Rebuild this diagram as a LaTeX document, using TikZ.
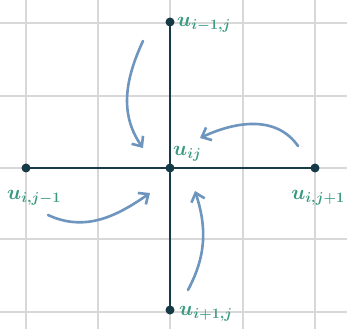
\documentclass[tikz,border=0pt]{standalone}
\usetikzlibrary{arrows.meta}
\definecolor{gridc}{HTML}{D8D8D8}
\definecolor{axisc}{HTML}{173A47}
\definecolor{labc}{HTML}{3A9A80}
\definecolor{arrc}{HTML}{6D95BE}
\tikzset{
  gridline/.style={gridc, line width=1.2pt},
  axis/.style={axisc, line width=2.8pt},
  dotnode/.style={circle, fill=axisc, inner sep=0pt, minimum size=9pt},
  lab/.style={text=labc, inner sep=1pt, font=\huge\boldmath},
  flow/.style={arrc, line width=2.6pt, line cap=round, -{Straight Barb[length=8pt,width=14pt,line width=2.6pt]}}
}
\begin{document}
\begin{tikzpicture}[x=1pt,y=1pt]
\useasboundingbox (0,0) rectangle (347,329);
% grid
\foreach \gx in {26,98,170,243,315} \draw[gridline] (\gx,0) -- (\gx,329);
\foreach \gy in {17,90,161,233,306} \draw[gridline] (0,\gy) -- (347,\gy);
% points
\node[dotnode] (c) at (170,161) {};
\node[dotnode] (t) at (170,307) {};
\node[dotnode] (b) at (170,19) {};
\node[dotnode] (l) at (26,161) {};
\node[dotnode] (r) at (315,161) {};
\draw[axis] (t.center) -- (b.center);
\draw[axis] (l.center) -- (r.center);
% labels
\node[lab, anchor=west] (lt) at (176,304) {$u_{i-1,j}$};
\node[lab, anchor=south west] (lc) at (172,166) {$u_{ij}$};
\node[lab] (ll) at (34,131) {$u_{i,j-1}$};
\node[lab] (lr) at (318,131) {$u_{i,j+1}$};
\node[lab, anchor=west] (lb) at (178,15) {$u_{i+1,j}$};
% arrows
\coordinate (a1s) at (143,288); \coordinate (a1e) at (143,181);
\coordinate (a2s) at (298,183); \coordinate (a2e) at (200,191);
\coordinate (a3s) at (48,114);  \coordinate (a3e) at (150,136);
\coordinate (a4s) at (188,39);  \coordinate (a4e) at (195,138);
\draw[flow] (a1s) to[out=-115, in=125] (a1e);
\draw[flow] (a2s) to[out=125, in=25] (a2e);
\draw[flow] (a3s) to[out=-25, in=-145] (a3e);
\draw[flow] (a4s) to[out=62, in=-72] (a4e);
\end{tikzpicture}
\end{document}
